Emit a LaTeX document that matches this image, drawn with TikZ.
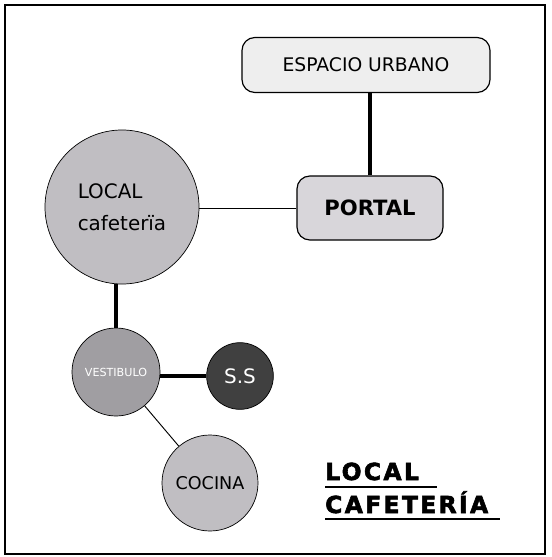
\documentclass[tikz,border=0pt]{standalone}
\usepackage{fontspec}
\setmainfont{DejaVu Sans}
\newfontfamily\titlefont[LetterSpace=10, FakeBold=2.5]{DejaVu Sans Bold}
\usetikzlibrary{positioning}
\definecolor{urbangray}{RGB}{238,238,238}
\definecolor{portalgray}{RGB}{216,214,218}
\definecolor{localgray}{RGB}{192,190,194}
\definecolor{vestgray}{RGB}{160,158,162}
\definecolor{ssgray}{RGB}{64,64,64}

\begin{document}
\begin{tikzpicture}[x=0.03cm, y=-0.03cm,
    room/.style={circle, draw=black, line width=0.6pt, inner sep=0pt},
    block/.style={draw=black, line width=1pt, rounded corners=11pt, inner sep=0pt},
    bond/.style={line width=2.8pt},
    link/.style={line width=0.8pt}]
            \useasboundingbox (0,0) rectangle (551,557);
            \draw[line width=1.6pt] (5,5) rectangle (545,554);
            % zones
            \node[block, fill=urbangray, minimum width=7.44cm, minimum height=1.65cm,
                  font=\fontsize{16}{18}\selectfont] (urbano) at (366,65) {ESPACIO URBANO};
            \node[block, fill=portalgray, minimum width=4.38cm, minimum height=1.92cm,
                  font=\fontsize{18}{20}\selectfont\bfseries] (portal) at (370,208) {PORTAL};
            \node[room, fill=localgray, minimum size=4.62cm, align=left,
                  font=\fontsize{17}{27}\selectfont] (local) at (122,207) {LOCAL\\cafeterïa};
            \node[room, fill=vestgray, minimum size=2.64cm, text=white,
                  font=\fontsize{9.5}{11}\selectfont] (vestibulo) at (116,372) {VESTIBULO};
            \node[room, fill=ssgray, minimum size=2.0cm, text=white,
                  font=\fontsize{17}{19}\selectfont] (ss) at (240,376) {S.S};
            \node[room, fill=localgray, minimum size=2.88cm,
                  font=\fontsize{15}{17}\selectfont] (cocina) at (210,483) {COCINA};
            % connections
            \draw[bond] (portal.north) -- (portal.north |- urbano.south);
            \draw[link] (portal.west) -- (portal.west -| local.east);
            \draw[bond] (vestibulo.north) -- (vestibulo.north |- local.south);
            \draw[bond] (ss.west) -- (ss.west -| vestibulo.east);
            \draw[link] (vestibulo) -- (cocina);
            % title
            \node[anchor=base west, inner sep=0pt, font=\fontsize{20}{22}\titlefont] (titleA) at (325,480) {LOCAL};
            \node[anchor=base west, inner sep=0pt, font=\fontsize{20}{22}\titlefont] (titleB) at (325,513) {CAFETERÍA};
            \draw[line width=1.7pt] (titleA.base west) ++(0,7) -- ++(112,0);
            \draw[line width=1.7pt] (titleB.base west) ++(0,6) -- ++(175,0);
        \end{tikzpicture}
\end{document}
